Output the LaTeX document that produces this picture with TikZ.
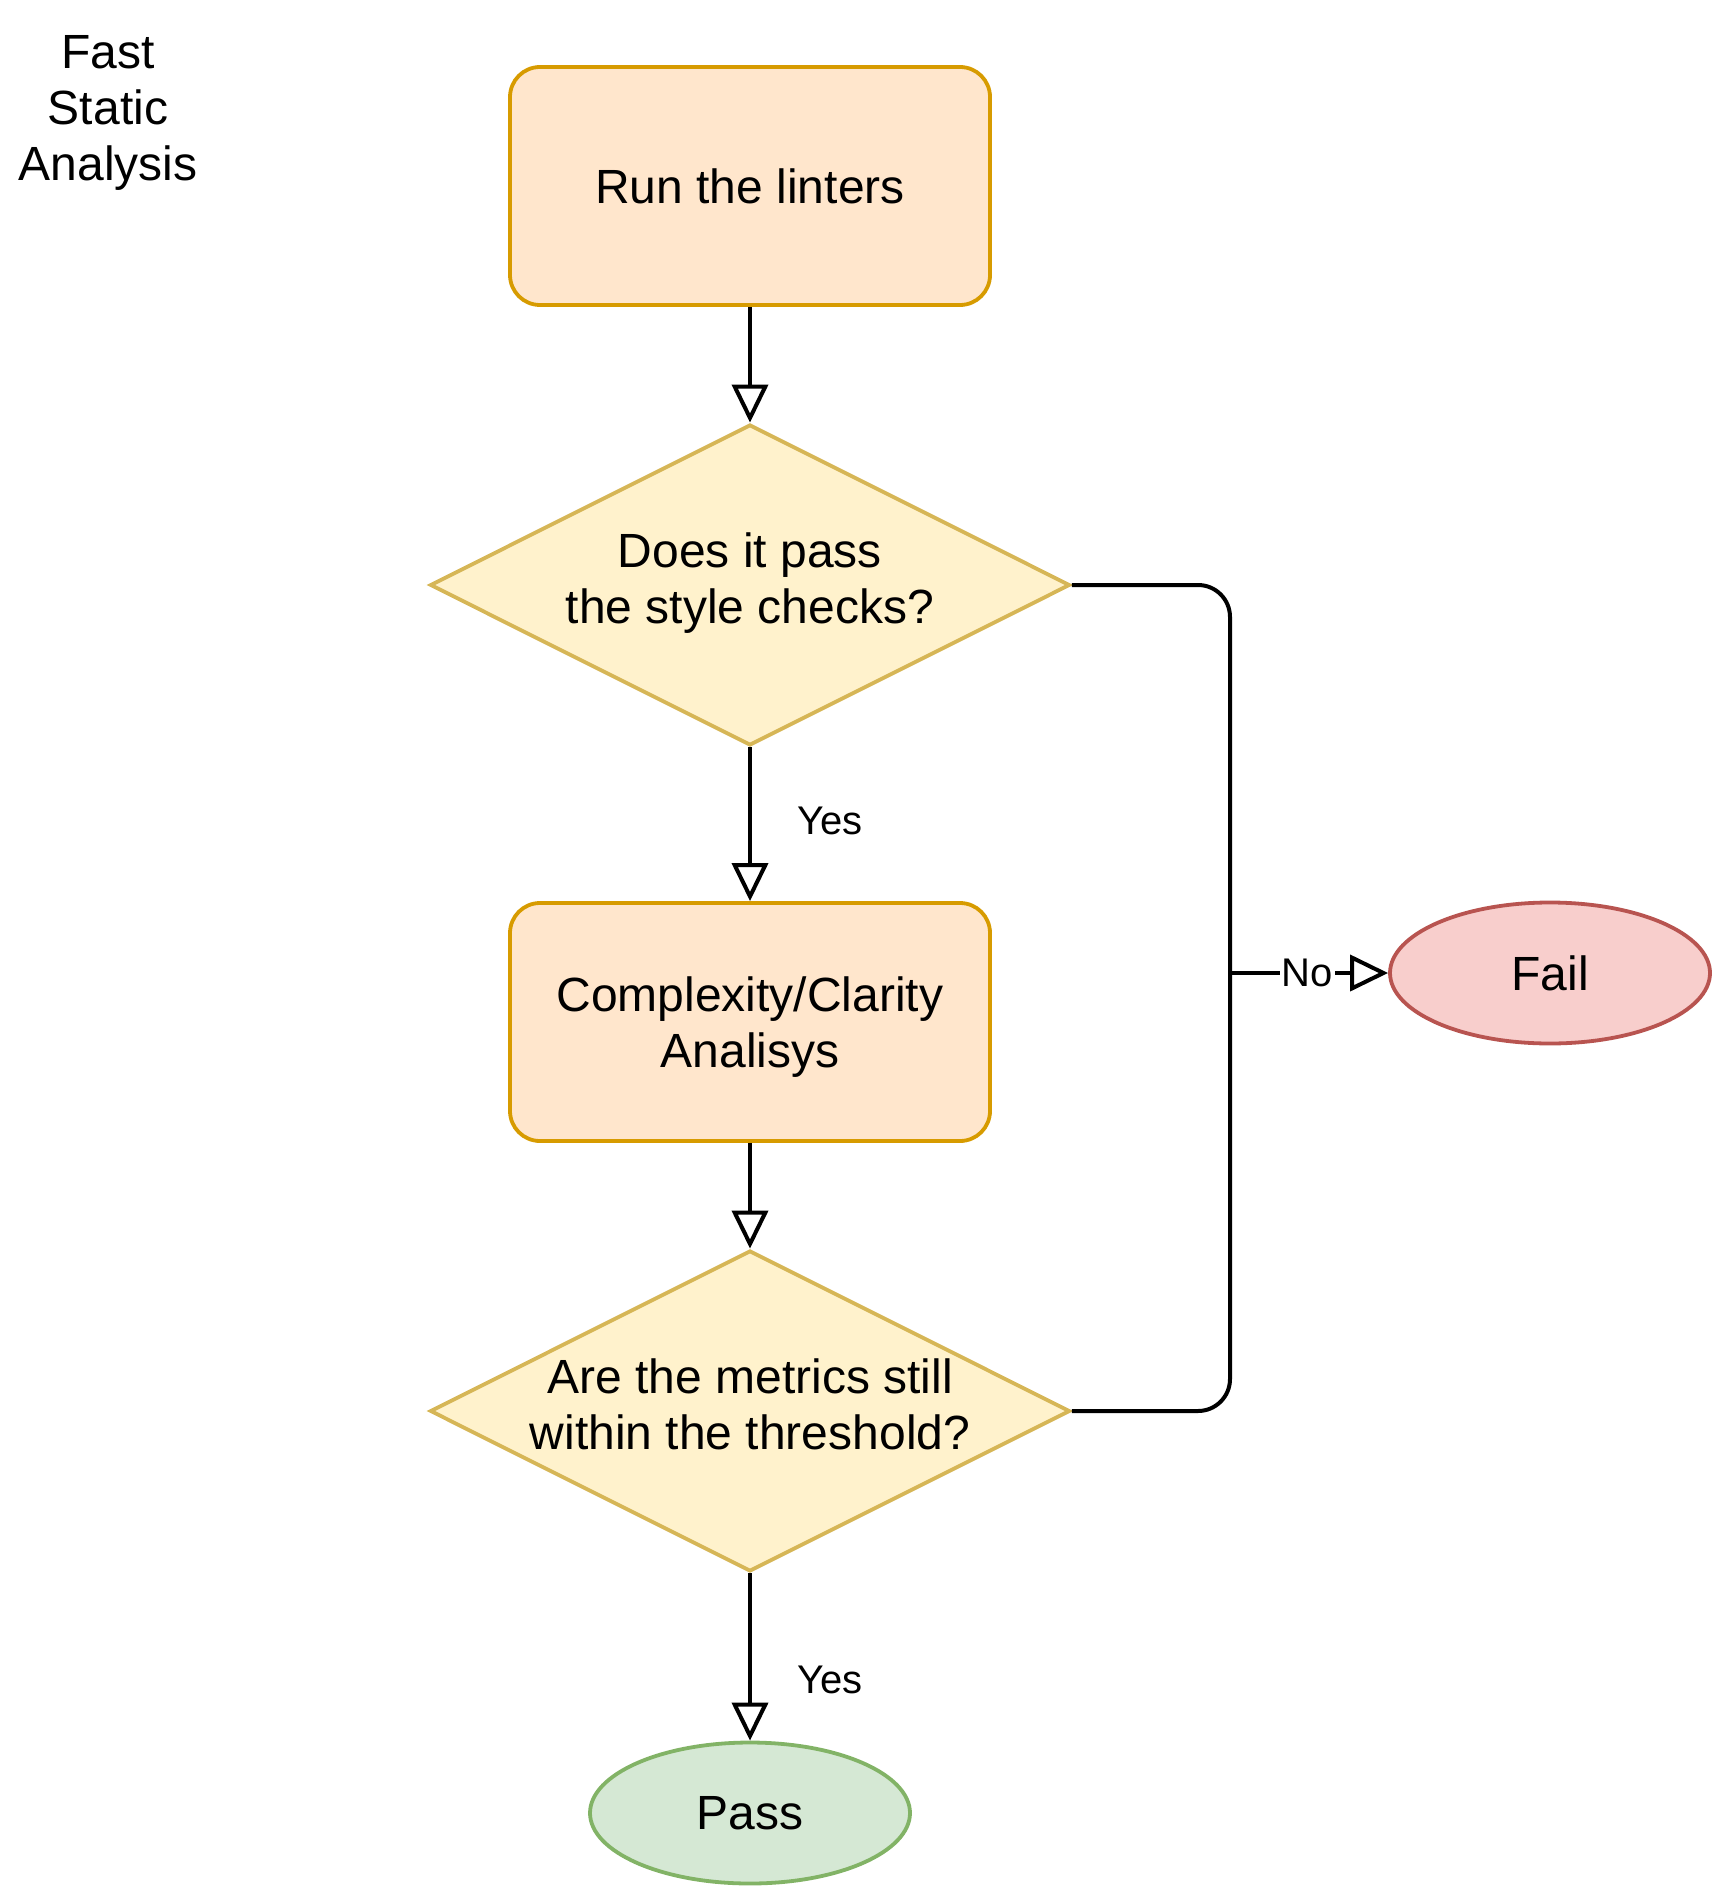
\documentclass[tikz,border=0pt]{standalone}
\usepackage{fontspec}
\setmainfont{Liberation Sans}
\usetikzlibrary{shapes.geometric,arrows.meta}
\definecolor{procfill}{HTML}{FFE6CC}
\definecolor{procline}{HTML}{D79B00}
\definecolor{decfill}{HTML}{FFF2CC}
\definecolor{decline}{HTML}{D6B656}
\definecolor{failfill}{HTML}{F8CECC}
\definecolor{failline}{HTML}{B85450}
\definecolor{passfill}{HTML}{D5E8D4}
\definecolor{passline}{HTML}{82B366}
\tikzset{
  every node/.style={font=\fontsize{24}{28}\selectfont},
  process/.style={rectangle,rounded corners=15pt,draw=procline,fill=procfill,line width=1.9pt,
    minimum width=240pt,minimum height=119pt,align=center,text depth=0pt},
  decision/.style={diamond,draw=decline,fill=decfill,line width=1.9pt,inner sep=0pt,
    minimum width=320pt,minimum height=160.5pt},
  question/.style={align=center,text depth=0pt,yshift=3.5pt},
  terminal/.style={ellipse,line width=1.9pt,minimum width=160pt,minimum height=70.5pt},
  flow/.style={line width=2pt,-{Triangle[open,length=19pt,width=18pt]}},
  link/.style={line width=2pt},
  lbl/.style={font=\fontsize{20}{24}\selectfont,inner sep=1pt}
}
\begin{document}
\begin{tikzpicture}[x=0.5pt,y=-0.5pt]%Hình
	\useasboundingbox (0,0) rectangle (1732,1904);
	\node[align=center] (title) at (108,113) {Fast\\Static\\Analysis};
	\node[process] (run) at (750,186) {Run the linters};
	\node[decision,label={[question]center:Does it pass\\the style checks?}] (style) at (750,585) {};
	\node[process] (cplx) at (750,1022) {Complexity/Clarity\\Analisys};
	\node[decision,label={[question]center:Are the metrics still\\within the threshold?}] (metric) at (750,1411) {};
	\node[terminal,draw=failline,fill=failfill] (fail) at (1550,973) {Fail};
	\node[terminal,draw=passline,fill=passfill] (pass) at (750,1813) {Pass};
	\coordinate (bend) at (1230,973);
	% main line
	\draw[flow] (run.south) -- (style.north);
	\draw[flow] (style.south) -- node[lbl,pos=.48,xshift=40pt]{Yes} (cplx.north);
	\draw[flow] (cplx.south) -- (metric.north);
	\draw[flow] (metric.south) -- node[lbl,pos=.64,xshift=40pt]{Yes} (pass.north);
	% failure branch
	\draw[link,rounded corners=16pt] (style.east) -| (bend);
	\draw[link,rounded corners=16pt] (metric.east) -| (bend);
	\draw[flow] (bend) -- node[lbl,fill=white,pos=.49]{No} (fail.west);
\end{tikzpicture}
\end{document}
